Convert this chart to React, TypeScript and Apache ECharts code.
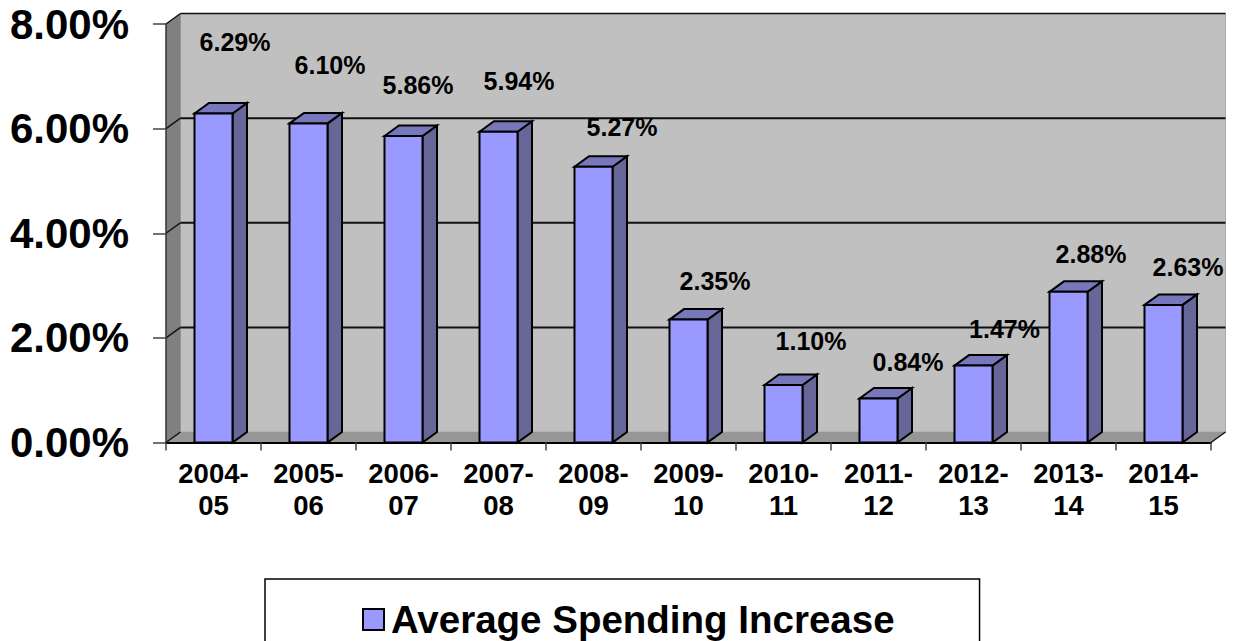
import React, { useEffect, useRef } from "react";
import * as echarts from "echarts";

const categories = ["2004-\n05", "2005-\n06", "2006-\n07", "2007-\n08", "2008-\n09", "2009-\n10", "2010-\n11", "2011-\n12", "2012-\n13", "2013-\n14", "2014-\n15"];
const spending = [6.29, 6.1, 5.86, 5.94, 5.27, 2.35, 1.1, 0.84, 1.47, 2.88, 2.63];
const yTicks = [0, 2, 4, 6, 8];
const seriesName = "Average Spending Increase";
// Hand-placed label offsets from each bar's top centre, as in the reference
const labelDx = [21.5, 21.5, 14.5, 20.5, 28.5, 26.5, 27.5, 29.5, 31, 22.5, 24.5];
const labelDy = [-71.5, -58.5, -51, -50.8, -40, -38.6, -44, -36.6, -36.6, -38, -38];

const FONT = '"Liberation Sans", Arial, sans-serif';
const DX = 14.5;
const DY = -10.5;

export default function App() {
  const ref = useRef<HTMLDivElement>(null);
  useEffect(() => {
    const chart = echarts.init(ref.current!, null, { renderer: "svg" });
    chart.setOption({
      animation: false,
      backgroundColor: "#fff",
      grid: { left: 166, top: 24, width: 1045, height: 418.5, containLabel: false },
      legend: {
        left: 265,
        top: 579,
        data: [{ name: seriesName, icon: "rect", itemStyle: { color: "#9999FF", borderColor: "#000", borderWidth: 2 } }],
        itemWidth: 21,
        itemHeight: 21,
        itemGap: 0,
        padding: [21, 85, 24, 97],
        borderColor: "#000",
        borderWidth: 1.5,
        backgroundColor: "#fff",
        selectedMode: false,
        textStyle: { fontFamily: FONT, fontWeight: "bold", fontSize: 38.5, color: "#000", padding: [0, 0, 0, 2] },
      },
      xAxis: {
        type: "category",
        data: categories,
        z: 5,
        axisLine: { lineStyle: { color: "#000", width: 2 } },
        axisTick: { show: true, alignWithLabel: false, length: 8, lineStyle: { color: "#444", width: 1.5 } },
        axisLabel: { interval: 0, margin: 15, color: "#000", fontFamily: FONT, fontWeight: "bold", fontSize: 27.5, lineHeight: 32 },
        splitLine: { show: false },
      },
      yAxis: {
        type: "value",
        min: 0,
        max: 8,
        interval: 2,
        z: 5,
        axisLine: { show: true, lineStyle: { color: "#333", width: 1.5 } },
        axisTick: { show: true, length: 13, lineStyle: { color: "#444", width: 1.5 } },
        axisLabel: {
          margin: 37,
          color: "#000",
          fontFamily: FONT,
          fontWeight: "bold",
          fontSize: 42,
          formatter: (v: number) => v.toFixed(2) + "%",
        },
        splitLine: { show: false },
      },
      series: [
        {
          name: "walls",
          type: "custom",
          silent: true,
          clip: false,
          z: 1,
          data: [[0, 0]],
          renderItem: (params: any, api: any) => {
            const cs = params.coordSys;
            const xl = cs.x;
            const xr = cs.x + cs.width;
            const yb = api.coord([0, 0])[1];
            const yt = api.coord([0, 8])[1];
            const children: any[] = [
              { type: "polygon", shape: { points: [[xl + DX, yt + DY], [xr + DX, yt + DY], [xr + DX, yb + DY], [xl + DX, yb + DY]] }, style: { fill: "#C0C0C0", stroke: "#A8A8A8", lineWidth: 1 } },
              { type: "polygon", shape: { points: [[xl, yt], [xl + DX, yt + DY], [xl + DX, yb + DY], [xl, yb]] }, style: { fill: "#808080" } },
              { type: "polygon", shape: { points: [[xl, yb], [xl + DX, yb + DY], [xr + DX, yb + DY], [xr, yb]] }, style: { fill: "#969696" } },
            ];
            yTicks.forEach((t) => {
              const y = api.coord([0, t])[1];
              children.push({ type: "line", shape: { x1: xl, y1: y, x2: xl + DX, y2: y + DY }, style: { stroke: "#111", lineWidth: 1.5 } });
              if (t !== 0) {
                children.push({ type: "line", shape: { x1: xl + DX, y1: y + DY, x2: xr + DX, y2: y + DY }, style: { stroke: "#111", lineWidth: t === 8 ? 1.5 : 2 } });
              }
            });
            children.push({ type: "line", shape: { x1: xr, y1: yb, x2: xr + DX, y2: yb + DY }, style: { stroke: "#111", lineWidth: 1.5 } });
            return { type: "group", children };
          },
        },
        {
          name: seriesName,
          type: "custom",
          clip: false,
          z: 2,
          encode: { x: 0, y: 1 },
          data: categories.map((c, i) => [c, spending[i]]),
          renderItem: (params: any, api: any) => {
            const idx = params.dataIndex;
            const v = api.value(1);
            const p = api.coord([api.value(0), v]);
            const base = api.coord([api.value(0), 0]);
            const half = api.size([1, 0])[0] * 0.2;
            const l = p[0] - half;
            const r = p[0] + half;
            const t = p[1];
            const b = base[1];
            const line = { stroke: "#000", lineWidth: 2, lineJoin: "miter" };
            return {
              type: "group",
              children: [
                { type: "polygon", shape: { points: [[r, t], [r + DX, t + DY], [r + DX, b + DY], [r, b]] }, style: { fill: "#666699", ...line } },
                { type: "polygon", shape: { points: [[l, t], [l + DX, t + DY], [r + DX, t + DY], [r, t]] }, style: { fill: "#7777BB", ...line } },
                { type: "rect", shape: { x: l, y: t, width: r - l, height: b - t }, style: { fill: "#9999FF", ...line } },
                {
                  type: "text",
                  style: {
                    x: p[0] + labelDx[idx],
                    y: t + labelDy[idx],
                    text: spending[idx].toFixed(2) + "%",
                    fill: "#000",
                    font: `bold 25px ${FONT}`,
                    align: "center",
                    verticalAlign: "middle",
                  },
                },
              ],
            };
          },
        },
      ],
    });
    return () => chart.dispose();
  }, []);
  return <div ref={ref} style={{ position: "fixed", left: 0, top: 0, width: 1233, height: 641 }} />;
}
